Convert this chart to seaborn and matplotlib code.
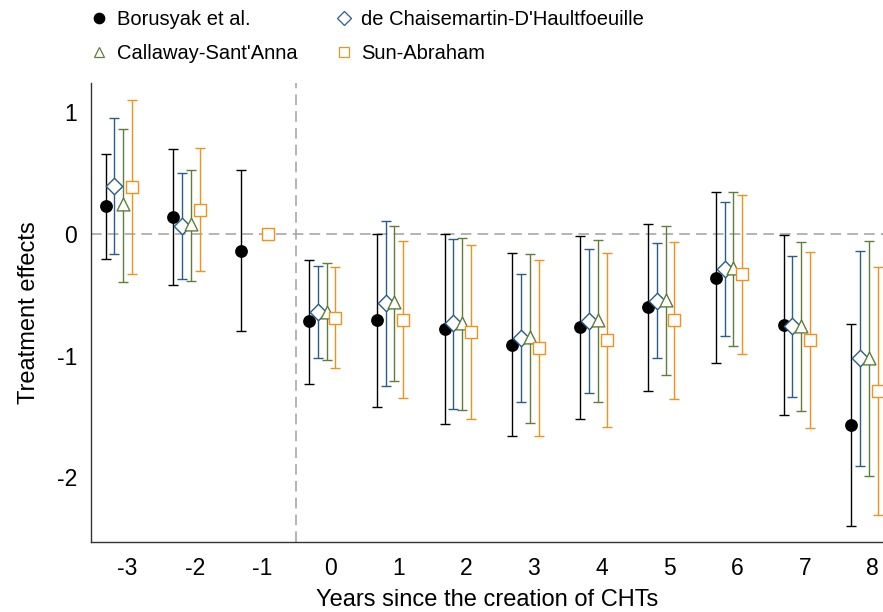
import numpy as np
import pandas as pd
import seaborn as sns
import matplotlib.pyplot as plt
from matplotlib.lines import Line2D

# Event time
periods = [-3, -2, -1, 0, 1, 2, 3, 4, 5, 6, 7, 8]

# Borusyak et al.
bor_est = [0.225, 0.14, -0.14, -0.72, -0.71, -0.78, -0.91, -0.77, -0.60, -0.36, -0.75, -1.57]
bor_lo = [-0.21, -0.42, -0.80, -1.23, -1.42, -1.56, -1.66, -1.52, -1.29, -1.06, -1.49, -2.40]
bor_hi = [0.65, 0.695, 0.52, -0.215, 0.0, 0.0, -0.155, -0.02, 0.08, 0.34, -0.015, -0.745]

# de Chaisemartin-D'Haultfoeuille (no estimate at -1)
dch_est = [0.39, 0.065, np.nan, -0.645, -0.57, -0.735, -0.855, -0.715, -0.55, -0.29, -0.76, -1.02]
dch_lo = [-0.165, -0.37, np.nan, -1.02, -1.25, -1.435, -1.385, -1.31, -1.02, -0.84, -1.34, -1.905]
dch_hi = [0.95, 0.50, np.nan, -0.265, 0.10, -0.045, -0.33, -0.125, -0.08, 0.26, -0.18, -0.14]

# Callaway-Sant'Anna (no estimate at -1)
cs_est = [0.24, 0.075, np.nan, -0.64, -0.565, -0.735, -0.845, -0.71, -0.545, -0.28, -0.755, -1.02]
cs_lo = [-0.40, -0.39, np.nan, -1.04, -1.21, -1.445, -1.55, -1.385, -1.16, -0.92, -1.455, -1.985]
cs_hi = [0.855, 0.52, np.nan, -0.24, 0.06, -0.035, -0.165, -0.05, 0.06, 0.34, -0.065, -0.06]

# Sun-Abraham (reference period -1 normalised to 0)
sa_est = [0.38, 0.19, 0.0, -0.69, -0.705, -0.81, -0.94, -0.87, -0.71, -0.335, -0.87, -1.29]
sa_lo = [-0.335, -0.31, 0.0, -1.105, -1.345, -1.52, -1.66, -1.59, -1.355, -0.99, -1.595, -2.31]
sa_hi = [1.10, 0.70, 0.0, -0.275, -0.06, -0.09, -0.22, -0.16, -0.065, 0.32, -0.15, -0.27]

estimators = ["Borusyak et al.", "de Chaisemartin-D'Haultfoeuille",
              "Callaway-Sant'Anna", "Sun-Abraham"]

frames = []
for name, est, lo, hi in zip(estimators,
                             [bor_est, dch_est, cs_est, sa_est],
                             [bor_lo, dch_lo, cs_lo, sa_lo],
                             [bor_hi, dch_hi, cs_hi, sa_hi]):
    frames.append(pd.DataFrame({"period": periods, "estimate": est,
                                "lo": lo, "hi": hi, "estimator": name}))
df = pd.concat(frames, ignore_index=True)

# Styles
offsets = {estimators[0]: -0.315, estimators[1]: -0.185,
           estimators[2]: -0.055, estimators[3]: 0.075}
colors = {estimators[0]: "#000000", estimators[1]: "#2a5d8c",
          estimators[2]: "#5e7f3a", estimators[3]: "#f0921e"}
markers = {estimators[0]: "o", estimators[1]: "D",
           estimators[2]: "^", estimators[3]: "s"}
sizes = {estimators[0]: 85, estimators[1]: 70, estimators[2]: 85, estimators[3]: 75}

df["x"] = df["period"] + df["estimator"].map(offsets)

plt.rcParams["font.family"] = ["Liberation Sans", "DejaVu Sans"]
plt.rcParams["axes.unicode_minus"] = False

fig = plt.figure(figsize=(8.83, 6.12), dpi=100)
ax = fig.add_axes([0.103, 0.1144, 0.897, 0.7496])

ax.axhline(0, color="#a0a0a0", lw=1.1, ls=(0, (7, 4)), zorder=1)
ax.axvline(-0.5, color="#a0a0a0", lw=1.1, ls=(0, (7, 4)), zorder=1)

for name in estimators:
    d = df[(df["estimator"] == name) & df["estimate"].notna()]
    ax.errorbar(d["x"], d["estimate"],
                yerr=[d["estimate"] - d["lo"], d["hi"] - d["estimate"]],
                fmt="none", ecolor=colors[name], elinewidth=1.0,
                capsize=3.8, capthick=1.0, zorder=2)

for name in estimators:
    d = df[(df["estimator"] == name) & df["estimate"].notna()]
    filled = name == estimators[0]
    sns.scatterplot(data=d, x="x", y="estimate", ax=ax,
                    marker=markers[name], s=sizes[name],
                    color=colors[name] if filled else "white",
                    edgecolor=colors[name], linewidth=1.0 if not filled else 0,
                    zorder=3, legend=False)

ax.set_xlim(-3.53, 8.15)
ax.set_ylim(-2.53, 1.234)
ax.set_xticks(periods)
ax.set_yticks([-2, -1, 0, 1])
ax.tick_params(axis="both", length=0, labelsize=16.5)
ax.tick_params(axis="x", pad=11)
ax.tick_params(axis="y", pad=10)
ax.set_xlabel("Years since the creation of CHTs", fontsize=17, labelpad=6)
ax.set_ylabel("Treatment effects", fontsize=17, labelpad=12)
for s in ["top", "right"]:
    ax.spines[s].set_visible(False)
for s in ["left", "bottom"]:
    ax.spines[s].set_color("#333333")
    ax.spines[s].set_linewidth(1.0)

handles = []
for name in [estimators[0], estimators[2], estimators[1], estimators[3]]:
    filled = name == estimators[0]
    handles.append(Line2D([], [], ls="none", marker=markers[name], markersize=7.5,
                          markerfacecolor=colors[name] if filled else "white",
                          markeredgecolor=colors[name], markeredgewidth=0.9,
                          label=name))
fig.legend(handles=handles, ncol=2, frameon=False, fontsize=14.5,
           loc="upper left", bbox_to_anchor=(0.083, 1.013),
           handlelength=0.8, handletextpad=0.45, columnspacing=1.9,
           labelspacing=0.72)

fig.savefig("out.png", dpi=100)
